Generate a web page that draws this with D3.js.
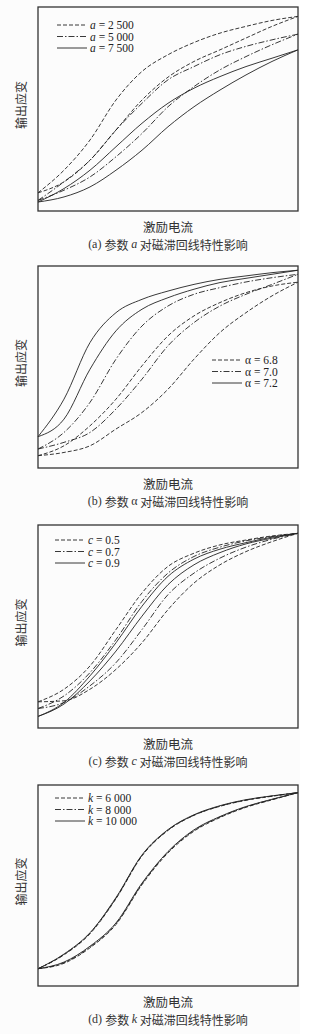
<!DOCTYPE html>
<head>
  <meta charset="utf-8">
  <script src="https://d3js.org/d3.v7.min.js"></script>
  <style>
    body { margin: 0; background: #fff; }
    svg { display: block; }
  </style>
</head>
<body>
  <svg width="335" height="1034"></svg>
  <script>
    // sample positions along the excitation current axis (normalised 0..100)
    var xSteps = [0, 10, 20, 30, 40, 50, 60, 70, 80, 90, 100];

    // (a) parameter a
    var aLegend = ['2 500', '5 000', '7 500'];
    var a2500Up   = [8.9, 20.0, 34.8, 54.4, 68.4, 76.6, 82.6, 87.2, 90.5, 93.4, 95.4];
    var a2500Down = [8.9, 14.3, 24.9, 39.7, 54.4, 65.6, 73.3, 79.0, 84.8, 90.5, 95.4];
    var a5000Up   = [5.2, 14.3, 24.9, 39.7, 52.8, 64.3, 70.8, 76.6, 80.7, 83.9, 86.7];
    var a5000Down = [5.2, 10.2, 16.7, 26.6, 38.0, 51.1, 61.0, 69.2, 75.7, 81.5, 86.7];
    var a7500Up   = [4.4, 11.0, 20.0, 31.5, 43.0, 52.8, 60.2, 65.9, 70.8, 74.9, 79.0];
    var a7500Down = [4.4, 6.9, 11.8, 20.0, 29.8, 41.3, 51.1, 59.3, 66.7, 73.3, 79.0];

    // (b) parameter alpha
    var bLegend = ['6.8', '7.0', '7.2'];
    var b68Up   = [6.1, 11.0, 20.9, 34.1, 50.6, 65.4, 75.3, 81.9, 86.8, 90.1, 92.0];
    var b68Down = [6.1, 7.7, 11.0, 19.3, 27.5, 39.0, 53.9, 67.1, 76.9, 85.2, 92.0];
    var b70Up   = [9.4, 17.6, 32.5, 53.9, 70.3, 80.2, 86.0, 89.3, 92.1, 94.2, 95.9];
    var b70Down = [9.4, 12.7, 17.6, 29.2, 44.0, 60.5, 72.0, 80.2, 86.0, 90.9, 95.9];
    var b72Up   = [15.5, 34.1, 62.1, 76.9, 83.5, 87.6, 90.9, 93.4, 95.1, 96.7, 97.9];
    var b72Down = [15.5, 24.2, 48.9, 67.9, 78.6, 84.3, 88.5, 91.8, 93.9, 95.9, 97.9];

    // (c) parameter c
    var cLegend = ['0.5', '0.7', '0.9'];
    var c05Up   = [12.9, 19.1, 30.6, 48.5, 66.5, 79.6, 86.1, 90.2, 92.6, 94.6, 95.9];
    var c05Down = [12.9, 13.4, 19.1, 28.9, 42.0, 58.3, 71.4, 80.4, 86.9, 91.8, 95.9];
    var c07Up   = [9.6, 15.8, 27.3, 43.6, 62.4, 76.3, 84.5, 89.1, 92.2, 94.3, 95.9];
    var c07Down = [9.6, 12.6, 20.8, 32.2, 48.5, 65.7, 76.3, 83.7, 89.1, 93.0, 95.9];
    var c09Up   = [5.7, 12.6, 25.7, 42.0, 60.0, 74.7, 83.2, 88.1, 91.3, 94.0, 95.9];
    var c09Down = [5.7, 11.8, 23.2, 37.9, 55.1, 70.6, 80.4, 86.4, 90.7, 93.5, 95.9];

    // (d) parameter k
    var dLegend = ['6 000', '8 000', '10 000'];
    var d6000Up    = [8.6, 15.5, 26.0, 43.4, 64.7, 77.4, 84.9, 89.4, 92.4, 94.4, 96.2];
    var d6000Down  = [8.6, 11.3, 19.0, 30.6, 50.4, 66.2, 77.0, 83.8, 88.9, 92.6, 96.2];
    var d8000Up    = [8.6, 15.7, 26.3, 43.7, 65.0, 77.6, 85.0, 89.5, 92.5, 94.5, 96.2];
    var d8000Down  = [8.6, 11.6, 19.4, 31.0, 50.8, 66.6, 77.4, 84.1, 89.1, 92.8, 96.2];
    var d10000Up   = [8.6, 15.9, 26.5, 44.0, 65.2, 77.8, 85.2, 89.7, 92.7, 94.6, 96.2];
    var d10000Down = [8.6, 11.9, 19.8, 31.4, 51.2, 66.9, 77.7, 84.3, 89.3, 92.9, 96.2];

    var xLabel = '激励电流';
    var yLabel = '输出应变';

    var dashes = ['4,2', '6,2,1.5,2', null];

    var panels = [
      { top: 7, bottom: 211, tag: '(a)', sym: 'a', italic: true, legend: aLegend,
        legendX: 57, legendY: 25, series: [[a2500Up, a2500Down], [a5000Up, a5000Down], [a7500Up, a7500Down]] },
      { top: 266, bottom: 468, tag: '(b)', sym: 'α', italic: false, legend: bLegend,
        legendX: 212, legendY: 360, series: [[b68Up, b68Down], [b70Up, b70Down], [b72Up, b72Down]] },
      { top: 525, bottom: 728, tag: '(c)', sym: 'c', italic: true, legend: cLegend,
        legendX: 55, legendY: 540, series: [[c05Up, c05Down], [c07Up, c07Down], [c09Up, c09Down]] },
      { top: 785, bottom: 986, tag: '(d)', sym: 'k', italic: true, legend: dLegend,
        legendX: 55, legendY: 798, series: [[d6000Up, d6000Down], [d8000Up, d8000Down], [d10000Up, d10000Down]] }
    ];

    var left = 38, right = 298;
    var svg = d3.select('svg');

    svg.append('rect')
      .attr('x', 0).attr('y', 0)
      .attr('width', 300).attr('height', 1034)
      .attr('fill', '#fcfcfc');

    var x = d3.scaleLinear().domain([0, 100]).range([left, right]);

    panels.forEach(function(p) {
      var y = d3.scaleLinear().domain([0, 100]).range([p.bottom, p.top]);
      var line = d3.line()
        .x(function(d, i) { return x(xSteps[i]); })
        .y(function(d) { return y(d); })
        .curve(d3.curveMonotoneX);

      var g = svg.append('g');

      p.series.forEach(function(branches, si) {
        branches.forEach(function(vals) {
          g.append('path')
            .attr('d', line(vals))
            .attr('fill', 'none')
            .attr('stroke', '#222')
            .attr('stroke-width', 0.9)
            .attr('stroke-dasharray', dashes[si]);
        });
      });

      g.append('rect')
        .attr('x', left).attr('y', p.top)
        .attr('width', right - left).attr('height', p.bottom - p.top)
        .attr('fill', 'none')
        .attr('stroke', '#333')
        .attr('stroke-width', 1.3);

      // legend
      p.legend.forEach(function(val, i) {
        var ly = p.legendY + i * 11.5;
        g.append('line')
          .attr('x1', p.legendX).attr('x2', p.legendX + 30)
          .attr('y1', ly).attr('y2', ly)
          .attr('stroke', '#222')
          .attr('stroke-width', 0.9)
          .attr('stroke-dasharray', dashes[i]);
        var t = g.append('text')
          .attr('x', p.legendX + 33).attr('y', ly)
          .attr('dominant-baseline', 'central')
          .attr('font-family', 'Liberation Serif, DejaVu Serif, serif')
          .attr('font-size', 11.5)
          .attr('fill', '#222');
        t.append('tspan').attr('font-style', p.italic ? 'italic' : 'normal').text(p.sym);
        t.append('tspan').text(' = ' + val);
      });

      // axis titles
      g.append('text')
        .attr('transform', 'translate(20,' + ((p.top + p.bottom) / 2 - 4) + ')rotate(-90)')
        .attr('text-anchor', 'middle')
        .attr('dominant-baseline', 'central')
        .attr('font-family', 'Noto Sans CJK SC')
        .attr('font-size', 12)
        .attr('fill', '#333')
        .text(yLabel);

      g.append('text')
        .attr('x', (left + right) / 2).attr('y', p.bottom + 15)
        .attr('text-anchor', 'middle')
        .attr('dominant-baseline', 'central')
        .attr('font-family', 'Noto Sans CJK SC')
        .attr('font-size', 12.5)
        .attr('fill', '#333')
        .text(xLabel);

      var cap = g.append('text')
        .attr('x', (left + right) / 2).attr('y', p.bottom + 32.5)
        .attr('text-anchor', 'middle')
        .attr('dominant-baseline', 'central')
        .attr('font-family', 'Noto Sans CJK SC')
        .attr('font-size', 12)
        .attr('fill', '#333');
      cap.append('tspan').attr('font-family', 'Liberation Serif').text(p.tag + ' ');
      cap.append('tspan').text('参数 ');
      cap.append('tspan')
        .attr('font-family', 'Liberation Serif')
        .attr('font-style', p.italic ? 'italic' : 'normal')
        .text(p.sym);
      cap.append('tspan').text(' 对磁滞回线特性影响');
    });
  </script>
</body>
